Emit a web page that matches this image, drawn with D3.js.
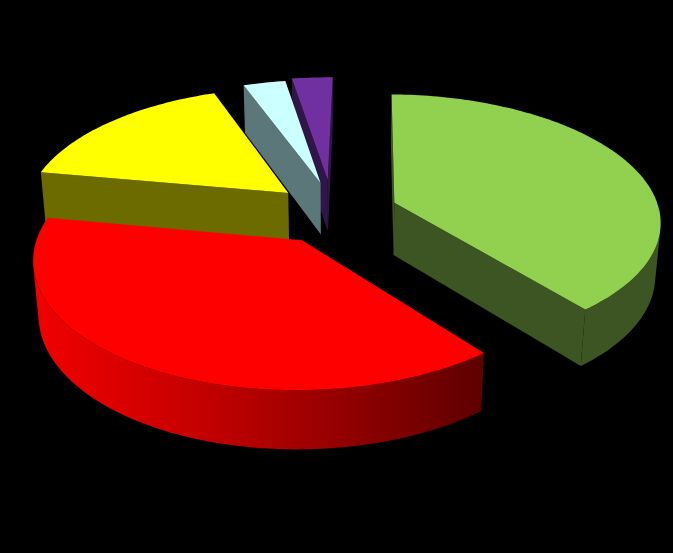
<!DOCTYPE html>
<html>
<head>
<meta charset="utf-8">
<script src="https://d3js.org/d3.v7.min.js"></script>
<style>
  html, body { margin: 0; padding: 0; background: #000; }
  svg { display: block; }
</style>
</head>
<body>
<div id="chart"></div>
<script>
// slice shares in percent, clockwise from twelve o'clock
const sliceValues = [38.9, 38.6, 16.5, 3.0, 2.9];
const topColors = ['#92D050', '#FF0000', '#FFFF00', '#CCFFFF', '#7030A0'];
const wallColors = ['#3D5423', '#990000', '#6B6B00', '#5B777A', '#301548'];

const width = 673, height = 553;

// exploded offset of every slice on the pie plane (u right, v toward viewer)
const explodeU = [0.208, -0.14, -0.2, -0.076, -0.048];
const explodeV = [-0.155, 0.14, -0.235, -0.319, -0.344];
const radii = [1.005, 0.975, 1.0, 1.0, 1.0];

// perspective camera
const cam = { x: 340, y: 222, a: 267, b: 127.6, k: 0.138, c: 54, m: 0.017 };
const rotation = 0.016;

// z = 0 top face, z = 1 bottom face
function project(u, v, z) {
    const w = 1 - cam.k * v + cam.m * z;
    return [cam.x + cam.a * u / w, cam.y + (cam.b * v + cam.c * z) / w];
}

const svg = d3.select('#chart').append('svg')
    .attr('width', width).attr('height', height)
    .style('background', '#000');

const defs = svg.append('defs');
const redGrad = defs.append('linearGradient')
    .attr('id', 'redWall')
    .attr('gradientUnits', 'userSpaceOnUse')
    .attr('x1', 40).attr('x2', 488).attr('y1', 0).attr('y2', 0);
redGrad.append('stop').attr('offset', 0).attr('stop-color', '#F00000');
redGrad.append('stop').attr('offset', 0.3).attr('stop-color', '#CC0000');
redGrad.append('stop').attr('offset', 0.6).attr('stop-color', '#A00000');
redGrad.append('stop').attr('offset', 1).attr('stop-color', '#5C0000');

const pie = d3.pie().sort(null).value(d => d)
    .startAngle(rotation).endAngle(2 * Math.PI + rotation);
const arcs = pie(sliceValues);
const line = d3.line();

function rimPoint(i, t, z) {
    return project(explodeU[i] + radii[i] * Math.sin(t), explodeV[i] - radii[i] * Math.cos(t), z);
}

function rimAngles(from, to) {
    const steps = Math.max(2, Math.ceil((to - from) / 0.02));
    return d3.range(steps + 1).map(s => from + (to - from) * s / steps);
}

function radialWall(i, angle) {
    return [
        project(explodeU[i], explodeV[i], 0),
        rimPoint(i, angle, 0),
        rimPoint(i, angle, 1),
        project(explodeU[i], explodeV[i], 1)
    ];
}

// only the part of the rim that faces the camera
function outerWall(i, from, to) {
    const angles = rimAngles(from, to);
    const kept = [];
    angles.slice(1).forEach((t, s) => {
        const quad = [rimPoint(i, angles[s], 0), rimPoint(i, t, 0), rimPoint(i, t, 1), rimPoint(i, angles[s], 1)];
        if (d3.polygonArea(quad) > 0) {
            if (!kept.length) kept.push(angles[s]);
            kept.push(t);
        }
    });
    if (!kept.length) return null;
    return kept.map(t => rimPoint(i, t, 0)).concat(kept.slice().reverse().map(t => rimPoint(i, t, 1)));
}

function drawSlice(i) {
    const d = arcs[i];
    const g = svg.append('g').attr('class', 'slice');
    const wallFill = i === 1 ? 'url(#redWall)' : wallColors[i];

    // d3.polygonArea is positive for walls turned toward the camera on the start side
    const startWall = radialWall(i, d.startAngle);
    if (d3.polygonArea(startWall) > 0) {
        g.append('path').attr('d', line(startWall) + 'Z').attr('fill', wallColors[i]);
    }
    const endWall = radialWall(i, d.endAngle);
    if (d3.polygonArea(endWall) < 0) {
        g.append('path').attr('d', line(endWall) + 'Z').attr('fill', wallColors[i]);
    }

    const rim = outerWall(i, d.startAngle, d.endAngle);
    if (rim) {
        g.append('path').attr('d', line(rim) + 'Z').attr('fill', wallFill);
    }

    const apex = project(explodeU[i], explodeV[i], 0);
    const topRim = rimAngles(d.startAngle, d.endAngle).map(t => rimPoint(i, t, 0));
    g.append('path')
        .attr('d', line([apex].concat(topRim)) + 'Z')
        .attr('fill', topColors[i]);
}

// back to front
[4, 3, 2, 1, 0].forEach(drawSlice);
</script>
</body>
</html>
